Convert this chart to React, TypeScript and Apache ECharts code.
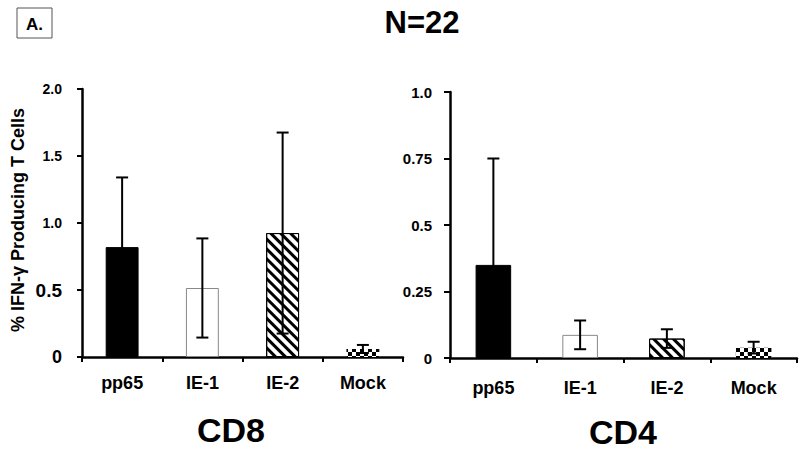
import React, { useEffect, useRef } from "react";
import * as echarts from "echarts";

const categories = ["pp65", "IE-1", "IE-2", "Mock"];
const cd8Means = [0.82, 0.515, 0.925, 0.06];
const cd8Errors = [0.52, 0.37, 0.75, 0.03];
const cd4Means = [0.35, 0.087, 0.073, 0.039];
const cd4Errors = [0.4, 0.054, 0.035, 0.022];
const cd8Ticks = ["0", "0.5", "1.0", "1.5", "2.0"];
const cd4Ticks = ["0", "0.25", "0.5", "0.75", "1.0"];

const FONT = "'Liberation Sans', Arial, Helvetica, sans-serif";

const barStyles = [
  { color: "#000000", borderColor: "#000000", borderWidth: 1 },
  { color: "#ffffff", borderColor: "#888888", borderWidth: 1 },
  {
    color: "#ffffff",
    borderColor: "#000000",
    borderWidth: 1,
    decal: {
      symbol: "rect",
      symbolSize: 1,
      color: "#000000",
      dashArrayX: [1, 0],
      dashArrayY: [2.5, 3.5],
      rotation: Math.PI / 4,
    },
  },
  {
    color: "#ffffff",
    borderWidth: 0,
    decal: {
      symbol: "rect",
      symbolSize: 1,
      color: "#000000",
      dashArrayX: [
        [4, 4],
        [0, 4, 4, 0],
      ],
      dashArrayY: [4, 0],
      rotation: 0,
    },
  },
];

function errData(means: number[], errs: number[]) {
  return means.map((m, i) => [i, Math.max(0.001, m - errs[i]), m + errs[i]]);
}

const renderErr = (params: any, api: any) => {
  const x = api.value(0);
  const lo = api.coord([x, api.value(1)]);
  const hi = api.coord([x, api.value(2)]);
  const hw = 6;
  const style = { stroke: "#000", lineWidth: 2 };
  return {
    type: "group",
    children: [
      { type: "line", shape: { x1: hi[0], y1: hi[1], x2: lo[0], y2: lo[1] }, style },
      { type: "line", shape: { x1: hi[0] - hw, y1: hi[1], x2: hi[0] + hw, y2: hi[1] }, style },
      { type: "line", shape: { x1: lo[0] - hw, y1: lo[1], x2: lo[0] + hw, y2: lo[1] }, style },
    ],
  };
};

export default function App() {
  const ref = useRef<HTMLDivElement>(null);
  useEffect(() => {
    if (!ref.current) return;
    const chart = echarts.init(ref.current, null, { renderer: "svg" });
    const axisLine = { show: true, lineStyle: { color: "#000", width: 2.5 } };
    const xAxisBase = (gridIndex: number, margin: number) => ({
      type: "category",
      gridIndex,
      data: categories,
      axisLine,
      axisTick: { show: true, length: 5, lineStyle: { color: "#000", width: 2 } },
      axisLabel: {
        color: "#000",
        fontFamily: FONT,
        fontWeight: "bold",
        fontSize: 18,
        margin,
      },
      splitLine: { show: false },
    });
    const makeBars = (means: number[]) =>
      means.map((v, i) => ({ value: v, itemStyle: barStyles[i] }));

    const option: any = {
      animation: false,
      backgroundColor: "#ffffff",
      grid: [
        { left: 82, right: 397, top: 89, bottom: 93 },
        { left: 450, right: 3, top: 92, bottom: 92 },
      ],
      xAxis: [xAxisBase(0, 17), xAxisBase(1, 21)],
      yAxis: [
        {
          type: "value",
          gridIndex: 0,
          min: 0,
          max: 2,
          interval: 0.5,
          axisLine,
          axisTick: { show: true, length: 5, lineStyle: { color: "#000", width: 2 } },
          splitLine: { show: false },
          axisLabel: {
            color: "#000",
            fontFamily: FONT,
            fontWeight: "bold",
            margin: 20,
            formatter: (v: number) => {
              const idx = Math.round(v / 0.5);
              const t = cd8Ticks[idx];
              if (idx === 0) return "{big|" + t + "}";
              if (idx === 1) return "{mid|" + t + "}";
              return "{sm|" + t + "}";
            },
            rich: {
              sm: { fontSize: 14, fontWeight: "bold", fontFamily: FONT, color: "#000" },
              mid: { fontSize: 19, fontWeight: "bold", fontFamily: FONT, color: "#000" },
              big: { fontSize: 18, fontWeight: "bold", fontFamily: FONT, color: "#000" },
            },
          },
        },
        {
          type: "value",
          gridIndex: 1,
          min: 0,
          max: 1,
          interval: 0.25,
          axisLine,
          axisTick: { show: true, length: 6, lineStyle: { color: "#000", width: 2 } },
          splitLine: { show: false },
          axisLabel: {
            color: "#000",
            fontFamily: FONT,
            fontWeight: "bold",
            fontSize: 15,
            margin: 18,
            formatter: (v: number) => cd4Ticks[Math.round(v / 0.25)],
          },
        },
      ],
      series: [
        {
          type: "bar",
          xAxisIndex: 0,
          yAxisIndex: 0,
          barWidth: "41%",
          data: makeBars(cd8Means),
        },
        {
          type: "custom",
          xAxisIndex: 0,
          yAxisIndex: 0,
          renderItem: renderErr,
          data: errData(cd8Means, cd8Errors),
          z: 5,
        },
        {
          type: "bar",
          xAxisIndex: 1,
          yAxisIndex: 1,
          barWidth: "41%",
          data: makeBars(cd4Means),
        },
        {
          type: "custom",
          xAxisIndex: 1,
          yAxisIndex: 1,
          renderItem: renderErr,
          data: errData(cd4Means, cd4Errors),
          z: 5,
        },
      ],
      graphic: [
        {
          type: "rect",
          shape: { x: 17, y: 8, width: 35, height: 30 },
          style: { fill: "#fff", stroke: "#555", lineWidth: 1 },
        },
        {
          type: "text",
          x: 34.5,
          y: 24,
          style: {
            text: "A.",
            fontFamily: FONT,
            fontWeight: "bold",
            fontSize: 17,
            fill: "#000",
            align: "center",
            verticalAlign: "middle",
          },
        },
        {
          type: "text",
          x: 422,
          y: 22,
          style: {
            text: "N=22",
            fontFamily: FONT,
            fontWeight: "bold",
            fontSize: 31,
            fill: "#000",
            align: "center",
            verticalAlign: "middle",
          },
        },
        {
          type: "text",
          x: 18,
          y: 220,
          rotation: Math.PI / 2,
          style: {
            text: "% IFN-γ Producing T Cells",
            fontFamily: FONT,
            fontWeight: "bold",
            fontSize: 18,
            fill: "#000",
            align: "center",
            verticalAlign: "middle",
          },
        },
        {
          type: "text",
          x: 231,
          y: 430,
          style: {
            text: "CD8",
            fontFamily: FONT,
            fontWeight: "bold",
            fontSize: 34,
            fill: "#000",
            align: "center",
            verticalAlign: "middle",
          },
        },
        {
          type: "text",
          x: 623,
          y: 432,
          style: {
            text: "CD4",
            fontFamily: FONT,
            fontWeight: "bold",
            fontSize: 34,
            fill: "#000",
            align: "center",
            verticalAlign: "middle",
          },
        },
      ],
    };
    chart.setOption(option);
    return () => chart.dispose();
  }, []);
  return <div ref={ref} style={{ width: 800, height: 450, position: "absolute", left: 0, top: 0 }} />;
}
